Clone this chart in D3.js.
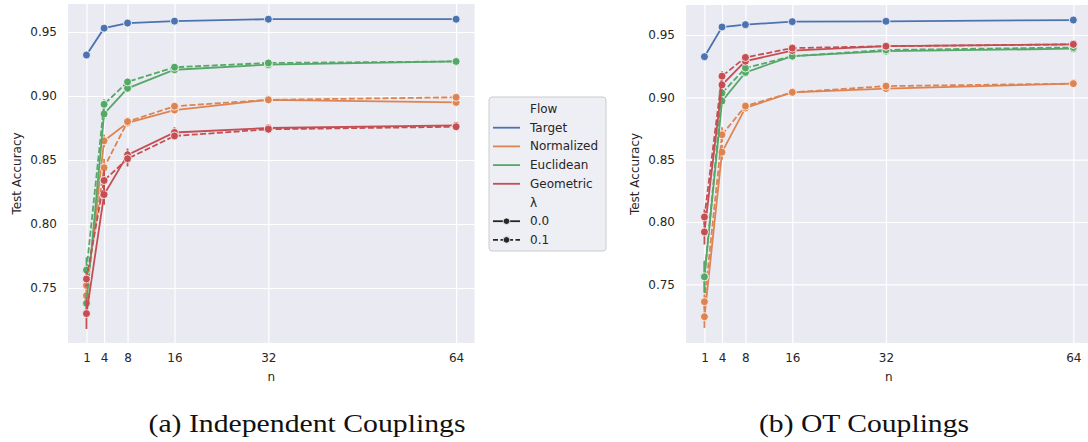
<!DOCTYPE html>
<html>
<head>
<meta charset="utf-8">
<title>Test Accuracy vs n</title>
<style>
  body { margin: 0; background: #fff; }
  text { font-family: "DejaVu Sans", sans-serif; fill: #262626; }
</style>
</head>
<body>
<svg id="chart" width="1088" height="442"></svg>
<script src="https://d3js.org/d3.v7.min.js"></script>
<script>
const ns = [1, 4, 8, 16, 32, 64];
const flows = ["Target", "Normalized", "Euclidean", "Geometric"];
const lambdas = ["0.0", "0.1"];
const yTicks = [0.75, 0.80, 0.85, 0.90, 0.95];
const captions = ["(a) Independent Couplings", "(b) OT Couplings"];

// (a) independent couplings
const indTarget      = [0.932, 0.953, 0.957, 0.9585, 0.960, 0.960];
const indNormalized0 = [0.744, 0.865, 0.879, 0.889, 0.897, 0.895];
const indNormalized1 = [0.752, 0.844, 0.880, 0.892, 0.897, 0.899];
const indEuclidean0  = [0.738, 0.886, 0.906, 0.9205, 0.9245, 0.927];
const indEuclidean1  = [0.764, 0.8935, 0.911, 0.9225, 0.9258, 0.927];
const indGeometric0  = [0.730, 0.823, 0.854, 0.8715, 0.875, 0.877];
const indGeometric1  = [0.757, 0.834, 0.851, 0.8688, 0.874, 0.876];

const indTargetErr      = [0.001, 0.001, 0.001, 0.001, 0.001, 0.001];
const indNormalized0Err = [0.006, 0.005, 0.003, 0.002, 0.001, 0.001];
const indNormalized1Err = [0.006, 0.007, 0.003, 0.002, 0.001, 0.001];
const indEuclidean0Err  = [0.008, 0.004, 0.002, 0.001, 0.001, 0.001];
const indEuclidean1Err  = [0.010, 0.004, 0.002, 0.001, 0.001, 0.001];
const indGeometric0Err  = [0.012, 0.008, 0.005, 0.004, 0.003, 0.001];
const indGeometric1Err  = [0.006, 0.008, 0.006, 0.003, 0.002, 0.001];

// (b) OT couplings
const otTarget      = [0.9326, 0.9564, 0.9583, 0.9607, 0.9610, 0.9620];
const otNormalized0 = [0.724, 0.856, 0.8915, 0.904, 0.907, 0.911];
const otNormalized1 = [0.736, 0.870, 0.893, 0.904, 0.909, 0.911];
const otEuclidean0  = [0.756, 0.897, 0.920, 0.933, 0.937, 0.939];
const otEuclidean1  = [0.756, 0.9035, 0.9235, 0.933, 0.938, 0.940];
const otGeometric0  = [0.792, 0.910, 0.929, 0.9375, 0.941, 0.9425];
const otGeometric1  = [0.804, 0.917, 0.932, 0.9395, 0.941, 0.9425];

const otTargetErr      = [0.001, 0.001, 0.001, 0.001, 0.001, 0.001];
const otNormalized0Err = [0.009, 0.006, 0.003, 0.001, 0.001, 0.001];
const otNormalized1Err = [0.006, 0.006, 0.003, 0.001, 0.001, 0.001];
const otEuclidean0Err  = [0.013, 0.004, 0.002, 0.001, 0.001, 0.001];
const otEuclidean1Err  = [0.012, 0.004, 0.002, 0.001, 0.001, 0.001];
const otGeometric0Err  = [0.010, 0.004, 0.002, 0.001, 0.001, 0.001];
const otGeometric1Err  = [0.006, 0.004, 0.002, 0.001, 0.001, 0.001];

const palette = ["#4c72b0", "#dd8452", "#55a868", "#c44e52"];
const color = d3.scaleOrdinal().domain(flows).range(palette);

function makeSeries(target, targetErr, groups) {
  let out = [{ flow: "Target", lam: 0, values: target, err: targetErr }];
  groups.forEach(g => {
    out.push({ flow: g[0], lam: 0, values: g[1], err: g[2] });
    out.push({ flow: g[0], lam: 1, values: g[3], err: g[4] });
  });
  return out;
}

const panels = [
  {
    left: 68, right: 474.6, top: 4, bottom: 343, yDomain: [0.70703, 0.97188], ylabelX: 17,
    captionX: 307, captionW: 317,
    series: makeSeries(indTarget, indTargetErr, [
      ["Normalized", indNormalized0, indNormalized0Err, indNormalized1, indNormalized1Err],
      ["Euclidean", indEuclidean0, indEuclidean0Err, indEuclidean1, indEuclidean1Err],
      ["Geometric", indGeometric0, indGeometric0Err, indGeometric1, indGeometric1Err]
    ])
  },
  {
    left: 686, right: 1091.8, top: 5, bottom: 343, yDomain: [0.70291, 0.97407], ylabelX: 635,
    captionX: 864, captionW: 210,
    series: makeSeries(otTarget, otTargetErr, [
      ["Normalized", otNormalized0, otNormalized0Err, otNormalized1, otNormalized1Err],
      ["Euclidean", otEuclidean0, otEuclidean0Err, otEuclidean1, otEuclidean1Err],
      ["Geometric", otGeometric0, otGeometric0Err, otGeometric1, otGeometric1Err]
    ])
  }
];

const svg = d3.select("#chart");

panels.forEach((p, pi) => {
  const width = p.right - p.left, height = p.bottom - p.top;
  const x = d3.scaleLinear().domain([-2.15, 67.15]).range([0, width]);
  const y = d3.scaleLinear().domain(p.yDomain).range([height, 0]);

  const g = svg.append("g").attr("transform", `translate(${p.left},${p.top})`);
  const clipId = "clip" + pi;
  g.append("clipPath").attr("id", clipId).append("rect")
    .attr("width", width).attr("height", height);

  g.append("rect").attr("width", width).attr("height", height).attr("fill", "#eaeaf2");

  // grid + ticks
  const xAxis = g.append("g").attr("transform", `translate(0,${height})`)
    .call(d3.axisBottom(x).tickValues(ns).tickSize(-height).tickPadding(10));
  const yAxis = g.append("g")
    .call(d3.axisLeft(y).tickValues(yTicks).tickFormat(d3.format(".2f")).tickSize(-width).tickPadding(11));
  [xAxis, yAxis].forEach(a => {
    a.select(".domain").remove();
    a.selectAll(".tick line").attr("stroke", "#fff").attr("stroke-width", 1.2);
    a.selectAll(".tick text").attr("font-size", 12).attr("fill", "#262626")
      .attr("font-family", "DejaVu Sans, sans-serif");
  });

  const plot = g.append("g").attr("clip-path", `url(#${clipId})`);
  const line = d3.line().x((d, i) => x(ns[i])).y(d => y(d));

  p.series.forEach(s => {
    const c = color(s.flow);
    const sg = plot.append("g");
    sg.append("path").datum(s.values)
      .attr("d", line)
      .attr("fill", "none")
      .attr("stroke", c)
      .attr("stroke-width", 1.8)
      .attr("stroke-dasharray", s.lam ? "6,2.4" : null);
    sg.selectAll("line.err").data(s.values).join("line")
      .attr("class", "err")
      .attr("x1", (d, i) => x(ns[i])).attr("x2", (d, i) => x(ns[i]))
      .attr("y1", (d, i) => y(d - s.err[i])).attr("y2", (d, i) => y(d + s.err[i]))
      .attr("stroke", c).attr("stroke-width", 1.8);
    sg.selectAll("circle").data(s.values).join("circle")
      .attr("cx", (d, i) => x(ns[i]))
      .attr("cy", d => y(d))
      .attr("r", 4)
      .attr("fill", c)
      .attr("stroke", "#fff")
      .attr("stroke-width", 0.8);
  });

  g.append("text")
    .attr("x", width / 2).attr("y", height + 38)
    .attr("text-anchor", "middle").attr("font-size", 12)
    .text("n");
  svg.append("text")
    .attr("transform", `translate(${p.ylabelX},${p.top + height / 2}) rotate(-90)`)
    .attr("text-anchor", "middle").attr("dominant-baseline", "middle").attr("font-size", 12)
    .text("Test Accuracy");

  svg.append("text")
    .attr("x", p.captionX).attr("y", 432)
    .attr("text-anchor", "middle")
    .attr("font-size", 25)
    .attr("textLength", p.captionW)
    .attr("lengthAdjust", "spacingAndGlyphs")
    .style("font-family", "'Liberation Serif', 'DejaVu Serif', serif")
    .style("fill", "#111")
    .text(captions[pi]);
});

// legend
const legend = svg.append("g").attr("transform", "translate(489,97)");
legend.append("rect")
  .attr("width", 117).attr("height", 154).attr("rx", 3)
  .attr("fill", "#eaeaf2").attr("fill-opacity", 0.8)
  .attr("stroke", "#cccccc").attr("stroke-width", 1);

const entries = [{ label: "Flow" }]
  .concat(flows.map(f => ({ label: f, flow: f })))
  .concat([{ label: "λ" }])
  .concat(lambdas.map((l, i) => ({ label: l, lam: i })));

entries.forEach((e, i) => {
  const ey = 12 + i * 18.7;
  if (e.flow) {
    legend.append("line").attr("x1", 4).attr("x2", 31).attr("y1", ey).attr("y2", ey)
      .attr("stroke", color(e.flow)).attr("stroke-width", 1.8);
  } else if (e.lam !== undefined) {
    legend.append("line").attr("x1", 4).attr("x2", 31).attr("y1", ey).attr("y2", ey)
      .attr("stroke", "#262626").attr("stroke-width", 1.8)
      .attr("stroke-dasharray", e.lam ? "5,2.5" : null);
    legend.append("circle").attr("cx", 17.5).attr("cy", ey).attr("r", 3.3)
      .attr("fill", "#262626").attr("stroke", "#fff").attr("stroke-width", 0.8);
  }
  legend.append("text").attr("x", 41).attr("y", ey)
    .attr("dominant-baseline", "central").attr("font-size", 12)
    .text(e.label);
});
</script>
</body>
</html>
